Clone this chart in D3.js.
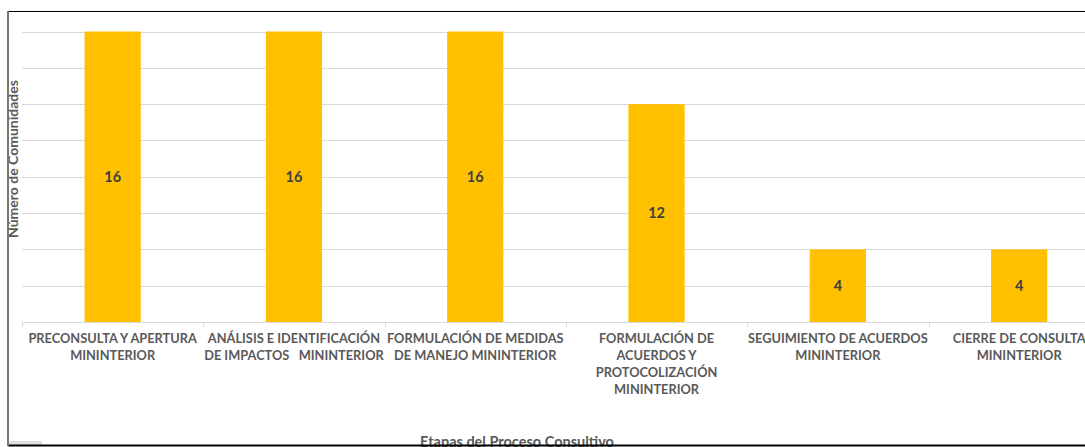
<!DOCTYPE html>
<html>
<head>
<meta charset="utf-8">
<script src="https://cdn.jsdelivr.net/npm/d3@7"></script>
<style>
  html, body { margin: 0; padding: 0; background: #fff; }
  svg { display: block; }
  text { font-family: Lato, "Open Sans", sans-serif; }
</style>
</head>
<body>
<div id="chart"></div>
<script>
const width = 1085;
const height = 447;

// data
const categories = [
    "PRECONSULTA Y APERTURA MININTERIOR",
    "ANÁLISIS E IDENTIFICACIÓN DE IMPACTOS MININTERIOR",
    "FORMULACIÓN DE MEDIDAS DE MANEJO MININTERIOR",
    "FORMULACIÓN DE ACUERDOS Y PROTOCOLIZACIÓN MININTERIOR",
    "SEGUIMIENTO DE ACUERDOS MININTERIOR",
    "CIERRE DE CONSULTA MININTERIOR"
];
const labelLines = [
    ["PRECONSULTA Y APERTURA", "MININTERIOR"],
    ["ANÁLISIS E IDENTIFICACIÓN", "DE IMPACTOS   MININTERIOR"],
    ["FORMULACIÓN DE MEDIDAS", "DE MANEJO MININTERIOR"],
    ["FORMULACIÓN DE", "ACUERDOS Y", "PROTOCOLIZACIÓN", "MININTERIOR"],
    ["SEGUIMIENTO DE ACUERDOS", "MININTERIOR"],
    ["CIERRE DE CONSULTA", "MININTERIOR"]
];
const values = [16, 16, 16, 12, 4, 4];
const yTicks = [0, 2, 4, 6, 8, 10, 12, 14, 16];

const plot = { left: 22, top: 31.5, bottom: 322, step: 181.3 };

const svg = d3.select("#chart").append("svg")
    .attr("width", width)
    .attr("height", height);

const x = d3.scaleBand()
    .domain(categories)
    .range([plot.left, plot.left + plot.step * categories.length])
    .paddingInner(0.69)
    .paddingOuter(0.345);

const y = d3.scaleLinear()
    .domain([0, 16])
    .range([plot.bottom, plot.top]);

// gridlines
svg.append("g")
    .selectAll("line")
    .data(yTicks.filter(d => d > 0))
    .enter()
    .append("line")
    .attr("x1", plot.left)
    .attr("x2", width)
    .attr("y1", d => Math.round(y(d)) + 0.5)
    .attr("y2", d => Math.round(y(d)) + 0.5)
    .attr("stroke", "#d9d9d9")
    .attr("stroke-width", 1);

// bars
svg.append("g")
    .selectAll("rect")
    .data(values)
    .enter()
    .append("rect")
    .attr("x", (d, i) => x(categories[i]))
    .attr("y", d => y(d))
    .attr("width", x.bandwidth())
    .attr("height", d => plot.bottom - y(d))
    .attr("fill", "#ffc000");

// x axis line + tick marks at category boundaries
const xAxis = svg.append("g");
xAxis.append("line")
    .attr("x1", plot.left)
    .attr("x2", width)
    .attr("y1", plot.bottom + 0.5)
    .attr("y2", plot.bottom + 0.5)
    .attr("stroke", "#d9d9d9");
xAxis.selectAll(".tick")
    .data(d3.range(categories.length + 1))
    .enter()
    .append("line")
    .attr("x1", i => Math.round(plot.left + i * plot.step) + 0.5)
    .attr("x2", i => Math.round(plot.left + i * plot.step) + 0.5)
    .attr("y1", plot.bottom)
    .attr("y2", plot.bottom + 5)
    .attr("stroke", "#d9d9d9");

// category labels
const labels = xAxis.selectAll(".cat")
    .data(labelLines)
    .enter()
    .append("text")
    .attr("class", "cat")
    .attr("text-anchor", "middle")
    .attr("font-size", "12.8px")
    .attr("font-weight", "bold")
    .attr("fill", "#595959")
    .style("white-space", "pre");
labels.each(function(lines, i) {
    const cx = x(categories[i]) + x.bandwidth() / 2;
    d3.select(this).selectAll("tspan")
        .data(lines)
        .enter()
        .append("tspan")
        .attr("x", cx)
        .attr("y", (d, j) => 343 + j * 17)
        .text(d => d);
});

// value labels
svg.append("g")
    .selectAll("text")
    .data(values)
    .enter()
    .append("text")
    .attr("x", (d, i) => x(categories[i]) + x.bandwidth() / 2)
    .attr("y", d => (y(d) + plot.bottom) / 2 + 5)
    .attr("text-anchor", "middle")
    .attr("font-size", "14.5px")
    .attr("font-weight", "bold")
    .attr("fill", "#404040")
    .text(d => d);

// axis titles
svg.append("text")
    .attr("transform", "translate(18,159) rotate(-90)")
    .attr("text-anchor", "middle")
    .attr("font-size", "14px")
    .attr("font-weight", "bold")
    .attr("fill", "#595959")
    .text("Número de Comunidades");

svg.append("text")
    .attr("x", 517)
    .attr("y", 447)
    .attr("text-anchor", "middle")
    .attr("font-size", "14.5px")
    .attr("font-weight", "bold")
    .attr("fill", "#595959")
    .text("Etapas del Proceso Consultivo");

// chart frame
svg.append("rect")
    .attr("x", 8)
    .attr("y", 441)
    .attr("width", 34)
    .attr("height", 4)
    .attr("fill", "#e0e0e0");
svg.append("line")
    .attr("x1", 8).attr("x2", width)
    .attr("y1", 11.5).attr("y2", 11.5)
    .attr("stroke", "#000");
svg.append("line")
    .attr("x1", 8).attr("x2", width)
    .attr("y1", 445.5).attr("y2", 445.5)
    .attr("stroke", "#000").attr("stroke-width", 2);
svg.append("line")
    .attr("x1", 8).attr("x2", 8)
    .attr("y1", 11).attr("y2", 446)
    .attr("stroke", "#777").attr("stroke-width", 2);
</script>
</body>
</html>
